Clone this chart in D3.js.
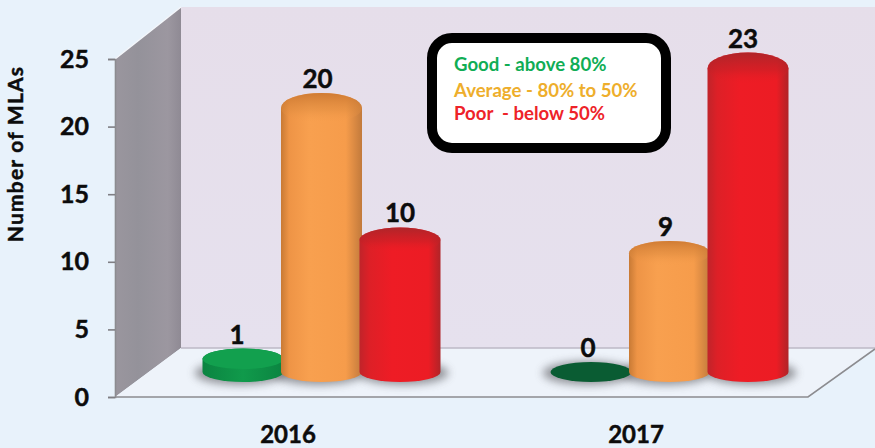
<!DOCTYPE html>
<html><head><meta charset="utf-8">
<script src="https://cdn.jsdelivr.net/npm/d3@7/dist/d3.min.js"></script>
<style>html,body{margin:0;padding:0;background:#e8f2fb}svg{display:block;font-family:Lato,"Open Sans",sans-serif;font-weight:700}
.ink{stroke:#0c0c0c;stroke-width:.45px;fill:#0c0c0c}</style>
</head><body><svg id="c" width="875" height="448"></svg>
<script>
const years = ["2016","2017"];
const grades = ["Good","Average","Poor"];
const values2016 = [1,20,10];
const values2017 = [0,9,23];
const yTicks = [0,5,10,15,20,25];
const legendLines = ["Good - above 80%","Average - 80% to 50%","Poor  - below 50%"];
const axisTitle = "Number of MLAs";
const series = [values2016, values2017];

const svg = d3.select("#c");
const defs = svg.append("defs");

// Wall ruler and bar scale (bars stand mid-depth, so their unit is shorter)
const yAxisScale = d3.scaleLinear().domain([0,25]).range([397,59]);
const barHeight = d3.scaleLinear().domain([0,25]).range([0,330]);
const ryScale = d3.scaleLinear().domain([0,304]).range([10,15.8]);
const groupX = d3.scalePoint().domain(years).range([322,670]);
const gradeOffset = d3.scalePoint().domain(grades).range([-79,78]);
const baseY = 372, rx = 40.5;

function grad(id, stops, vertical){
  const g = defs.append("linearGradient").attr("id",id);
  if(vertical) g.attr("x2",0).attr("y2",1);
  stops.forEach(s=>g.append("stop").attr("offset",s[0]).attr("stop-color",s[1]).attr("stop-opacity",s[2]===undefined?1:s[2]));
}
grad("orange",[[0,"#c87a35"],[.1,"#ee9446"],[.35,"#f8a04f"],[.8,"#f69c4b"],[1,"#c27a3c"]]);
grad("red",[[0,"#c0242a"],[.12,"#dd2027"],[.4,"#ee1c25"],[.85,"#ec1c24"],[1,"#b02428"]]);
grad("green",[[0,"#0b8441"],[.5,"#109a4b"],[1,"#0b8441"]]);
grad("wall",[[0,"#9a969e"],[.35,"#94929a"],[.8,"#9c97a0"],[1,"#8f8a94"]]);
grad("back",[[0,"#e6deea"],[1,"#e6e1ee"]],true);
grad("capOrange",[[0,"#c8752f",.85],[.55,"#dd8a3e",.5],[1,"#f69c4b",0]],true);
grad("capRed",[[0,"#a8262a",.9],[.55,"#c42026",.55],[1,"#ec1c24",0]],true);
defs.append("filter").attr("id","blur").attr("x","-30%").attr("y","-50%").attr("width","160%").attr("height","200%")
  .append("feGaussianBlur").attr("stdDeviation",4);

const fillId = {Good:"green",Average:"orange",Poor:"red"};
const capId = {Average:"capOrange",Poor:"capRed"};
const labelNudge = {"2016Good":-6,"2017Good":-3,"2016Average":-4,"2017Average":-4,"2016Poor":0,"2017Poor":-5};

const line = d3.line();
// Room: back wall, left wall, floor
svg.append("path").attr("d",line([[181,7],[875,7],[875,348],[181,348]])+"Z").attr("fill","url(#back)");
svg.append("path").attr("d",line([[181,7],[115,59],[115,397],[181,348]])+"Z").attr("fill","url(#wall)");
svg.append("path").attr("d",line([[181,348],[875,348],[875,349],[808,397],[115,397]])+"Z").attr("fill","#eef3fa");
svg.append("path").attr("d",line([[181,348],[875,348]])).attr("stroke","#bdb8c6").attr("stroke-width",1.5).attr("fill","none");
svg.append("path").attr("d",line([[115,397],[808,397],[875,349]])).attr("stroke","#8c8c90").attr("stroke-width",1.6).attr("fill","none");
svg.append("path").attr("d",line([[115,59],[181,7]])).attr("stroke","#f4f7fb").attr("stroke-width",1.5).attr("fill","none");

// Value axis
const axis = svg.append("g").attr("transform","translate(115,0)")
  .call(d3.axisLeft(yAxisScale).tickValues(yTicks).tickSize(7).tickPadding(19).tickFormat(d3.format("d")));
axis.select(".domain").attr("stroke","#8c8c90").attr("stroke-width",1.6);
axis.selectAll(".tick line").attr("stroke","#7f7f84").attr("stroke-width",1.6);
axis.selectAll(".tick text").attr("class","ink").style("font-size","25px").style("font-weight",700)
  .style("font-family","Lato");

svg.append("text").attr("class","ink").attr("transform","translate(23,154) rotate(-90)").attr("text-anchor","middle")
  .style("font-size","21px").style("letter-spacing","1.2px").text(axisTitle);

// Category labels
svg.selectAll(".cat").data(years).join("text")
  .attr("class","ink")
  .attr("x",d=>groupX(d)-34).attr("y",443).attr("text-anchor","middle")
  .style("font-size","24px").text(d=>d);

// Cylinders
const flat = years.flatMap((y,i)=>grades.map((g,j)=>({year:y,grade:g,value:series[i][j]})));
const px = d=>groupX(d.year)+gradeOffset(d.grade);

// Floor shadows
svg.selectAll(".shadow").data(flat).join("ellipse").attr("class","shadow")
  .attr("cx",d=>px(d)+(d.grade==="Poor"?3:-3)).attr("cy",baseY+1).attr("rx",rx+5).attr("ry",12)
  .attr("fill","#55555a").attr("opacity",.6).attr("filter","url(#blur)");

const bars = svg.selectAll(".bar").data(flat).join("g").attr("class","bar")
  .attr("transform",d=>`translate(${px(d)},${baseY})`);

// Body including the top dome of the cap, so the cap melts into the body
bars.filter(d=>d.value>0).append("path")
  .attr("d",d=>{
    const h=barHeight(d.value), r0=ryScale(0), r1=ryScale(h);
    return `M${-rx},${-h}L${-rx},0A${rx},${r0} 0 0 0 ${rx},0L${rx},${-h}A${rx},${r1} 0 0 0 ${-rx},${-h}Z`;
  }).attr("fill",d=>`url(#${fillId[d.grade]})`);

// Caps
bars.filter(d=>d.grade!=="Good").append("ellipse")
  .attr("cy",d=>-barHeight(d.value)).attr("rx",rx).attr("ry",d=>ryScale(barHeight(d.value)))
  .attr("fill",d=>`url(#${capId[d.grade]})`);
bars.filter(d=>d.grade==="Good").append("ellipse")
  .attr("cy",d=>-barHeight(d.value)).attr("rx",rx).attr("ry",d=>ryScale(barHeight(d.value)))
  .attr("fill",d=>d.value===0?"#0a5c33":"#12a04e");

// Value labels
bars.append("text").attr("class","ink").attr("text-anchor","middle")
  .attr("x",d=>labelNudge[d.year+d.grade])
  .attr("y",d=>-barHeight(d.value)-ryScale(barHeight(d.value))-5)
  .style("font-size","26px").text(d=>d.value);

// Legend
svg.append("rect").attr("x",432).attr("y",38).attr("width",234).attr("height",110).attr("rx",20)
  .attr("fill","#fff").attr("stroke","#000").attr("stroke-width",10);
const legendColors = ["#10ad55","#eeae2c","#ee2329"];
const legendBaselines = [71,97,120];
svg.selectAll(".leg").data(legendLines).join("text").attr("class","leg")
  .attr("x",454).attr("y",(d,i)=>legendBaselines[i]).attr("fill",(d,i)=>legendColors[i])
  .style("white-space","pre").style("font-size","18.6px").text(d=>d);
</script></body></html>
